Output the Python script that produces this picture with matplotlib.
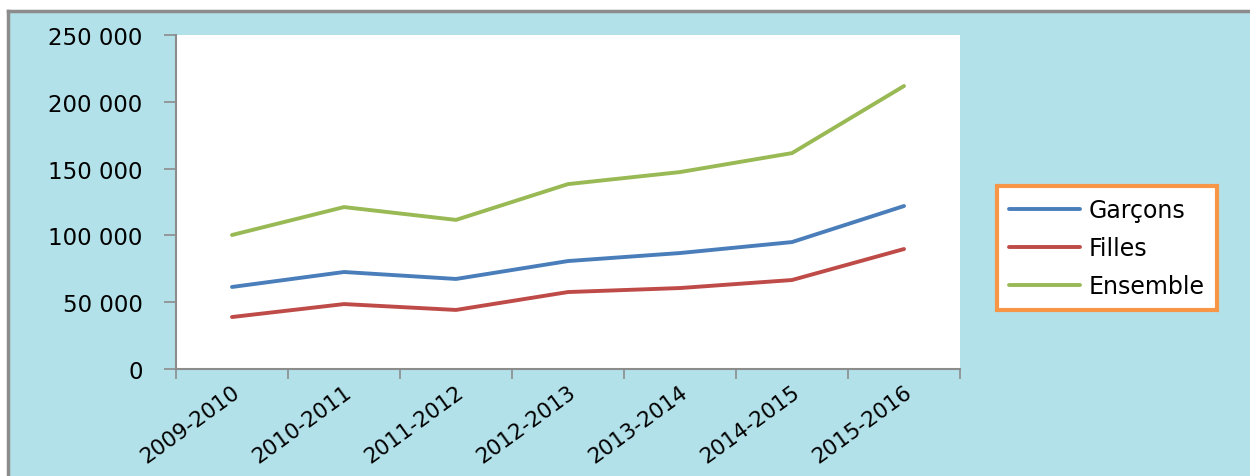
import matplotlib
matplotlib.use("Agg")
import matplotlib.pyplot as plt
from matplotlib.ticker import FuncFormatter, MultipleLocator

categories = ["2009-2010", "2010-2011", "2011-2012", "2012-2013",
              "2013-2014", "2014-2015", "2015-2016"]
garcons = [61400, 72600, 67400, 80800, 86800, 95000, 122000]
filles = [38900, 48600, 44200, 57600, 60600, 66600, 89800]
ensemble = [100300, 121200, 111600, 138400, 147400, 161600, 211800]

W, H = 1250, 477
fig = plt.figure(figsize=(W / 100, H / 100), dpi=100)
fig.patch.set_facecolor("white")

bgax = fig.add_axes([8 / W, -0.01, 1 - 8 / W + 0.01, 1 - 12 / H + 0.01], zorder=-5)
bgax.set_facecolor("#b3e1ea")
bgax.set_xticks([])
bgax.set_yticks([])
for side in ["right", "bottom"]:
    bgax.spines[side].set_visible(False)
for side in ["left", "top"]:
    bgax.spines[side].set_color("#8c8c8c")
    bgax.spines[side].set_linewidth(2.5)

ax = fig.add_axes([176 / W, 1 - 370 / H, (960 - 176) / W, (370 - 36) / H], zorder=1)
ax.set_facecolor("white")

x = list(range(len(categories)))
ax.plot(x, garcons, color="#4a7ebb", lw=2.8, label="Garçons", solid_capstyle="round")
ax.plot(x, filles, color="#be4b48", lw=2.8, label="Filles", solid_capstyle="round")
ax.plot(x, ensemble, color="#98b954", lw=2.8, label="Ensemble", solid_capstyle="round")

ax.set_xlim(-0.5, len(categories) - 0.5)
ax.set_ylim(0, 250000)
ax.yaxis.set_major_locator(MultipleLocator(50000))
ax.yaxis.set_major_formatter(FuncFormatter(lambda v, p: f"{int(v):,}".replace(",", " ")))

ax.set_xticks([i - 0.5 for i in range(len(categories) + 1)], minor=False)
ax.set_xticklabels([])
ax.set_xticks(x, minor=True)
ax.set_xticklabels(categories, minor=True, rotation=36, ha="right", va="top",
                   rotation_mode="anchor", fontsize=15.5)
ax.tick_params(axis="x", which="minor", length=0, pad=9)
ax.tick_params(axis="x", which="major", length=7, color="#8c8c8c", width=1.2)
ax.tick_params(axis="y", length=9, color="#8c8c8c", width=1.2, labelsize=16.5, pad=15)

for side in ["top", "right"]:
    ax.spines[side].set_visible(False)
for side in ["left", "bottom"]:
    ax.spines[side].set_color("#8c8c8c")
    ax.spines[side].set_linewidth(1.5)

leg = fig.legend(loc="upper left", bbox_to_anchor=(997 / W, 1 - 187 / H),
                 bbox_transform=fig.transFigure, frameon=True, fancybox=False,
                 fontsize=17, handlelength=3.0, handletextpad=0.4,
                 labelspacing=0.6, borderpad=0.5, borderaxespad=0)
leg.get_frame().set_edgecolor("#f79646")
leg.get_frame().set_linewidth(3)
leg.get_frame().set_facecolor("white")
leg.get_frame().set_alpha(1)
leg.set_zorder(5)

fig.savefig("out.png", dpi=100)
